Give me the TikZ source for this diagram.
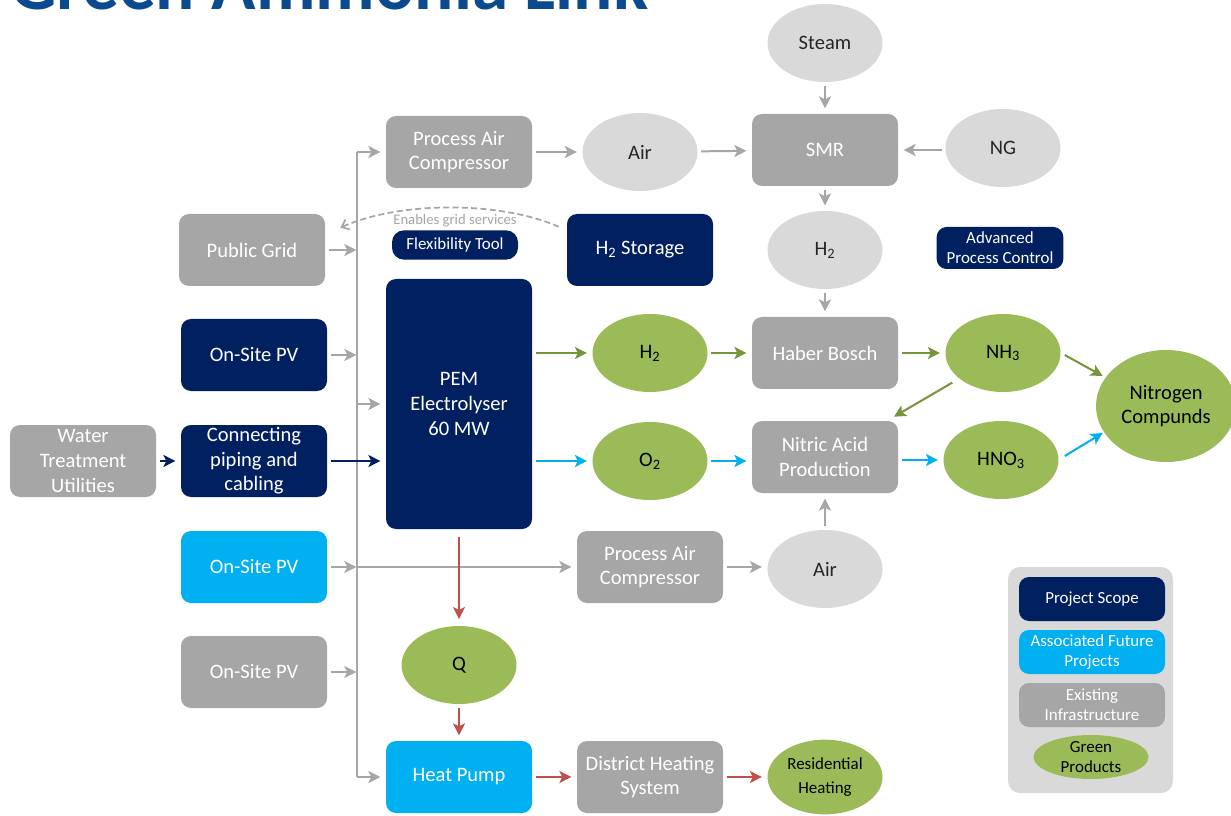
\documentclass[tikz,border=0pt]{standalone}
\usepackage{fontspec}
\setmainfont{Carlito}
\usetikzlibrary{shapes.geometric,arrows.meta,calc}
\definecolor{navy}{HTML}{002060}
\definecolor{lblue}{HTML}{00B0F0}
\definecolor{mgray}{HTML}{A6A6A6}
\definecolor{lgray}{HTML}{D9D9D9}
\definecolor{lgreen}{HTML}{9BBB59}
\definecolor{agreen}{HTML}{77933C}
\definecolor{ared}{HTML}{C0504D}
\definecolor{tblue}{HTML}{0B4A8F}
\definecolor{dtext}{HTML}{262626}
\newcommand\fmain{\fontsize{15.4}{18.4}\selectfont}
\newcommand\fsmall{\fontsize{12.7}{15}\selectfont}
\newcommand\ftiny{\fontsize{11}{13}\selectfont}
\begin{document}
\begin{tikzpicture}[x=0.75pt,y=-0.75pt,
  rbox/.style={rectangle, rounded corners=7.5pt, minimum width=109.5pt, minimum height=54pt, inner sep=0pt, align=center, text=white, font=\fmain},
  navybox/.style={rbox, fill=navy},
  bluebox/.style={rbox, fill=lblue},
  graybox/.style={rbox, fill=mgray},
  ell/.style={ellipse, minimum width=86.25pt, minimum height=58.5pt, inner sep=0pt, align=center, font=\fmain},
  lgell/.style={ell, fill=lgray, text=dtext},
  gell/.style={ell, fill=lgreen, text=black},
  arr/.style={line width=1.5pt, -{Stealth[length=9pt,width=9pt,inset=2.2pt]}, shorten >=4pt, shorten <=2.5pt},
  garr/.style={arr, draw=mgray},
  narr/.style={arr, draw=navy},
  grarr/.style={arr, draw=agreen},
  barr/.style={arr, draw=lblue},
  rarr/.style={arr, draw=ared},
  legbox/.style={rbox, minimum height=33pt, font=\fsmall},
]
\clip (0,0) rectangle (1231,816);
\fill[white] (0,0) rectangle (1231,816);
% title (cut off at top)
\node[anchor=base west, inner sep=0pt, text=tblue] (title) at (10,10) {\resizebox{478.5pt}{!}{\bfseries Green Ammonia Link}};

% nodes
\node[lgell] (steam) at (825,43) {Steam};
\node[graybox] (pac1) at (459,152) {Process Air\\Compressor};
\node[lgell] (air1) at (640,152) {Air};
\node[graybox] (smr) at (825,150) {SMR};
\node[lgell] (ng) at (1003,148) {NG};

\node[graybox] (grid) at (252,250) {Public Grid};
\node[navybox, minimum width=94.5pt, minimum height=22pt, rounded corners=9pt, font=\fsmall] (flex) at (455,245) {Flexibility Tool};
\node[text=mgray, font=\ftiny, inner sep=0pt] (enables) at (455,221) {Enables grid services};
\node[navybox] (h2s) at (640,250) {H\textsubscript{2} Storage};
\node[lgell] (h2gray) at (825,250) {H\textsubscript{2}};
\node[navybox, minimum width=95pt, minimum height=31.5pt, font=\fsmall] (apc) at (1000,248) {Advanced\\Process Control};

\node[navybox] (pv1) at (254,355) {On-Site PV};
\node[navybox, minimum height=187.5pt] (pem) at (459,404) {PEM\\Electrolyser\\60 MW};
\node[gell] (h2g) at (650,353) {H\textsubscript{2}};
\node[graybox] (hb) at (825,353) {Haber Bosch};
\node[gell] (nh3) at (1003,353) {NH\textsubscript{3}};
\node[gell, minimum width=105pt, minimum height=84pt] (nc) at (1166,406) {Nitrogen\\Compunds};

\node[graybox] (wtu) at (83,461) {Water\\Treatment\\Utilities};
\node[navybox] (pipe) at (254,461) {Connecting\\piping and\\cabling};
\node[gell] (o2) at (650,461) {O\textsubscript{2}};
\node[graybox] (nitric) at (825,457) {Nitric Acid\\Production};
\node[gell] (hno3) at (1001,460) {HNO\textsubscript{3}};

\node[bluebox] (pv2) at (254,567) {On-Site PV};
\node[graybox] (pac2) at (650,567) {Process Air\\Compressor};
\node[lgell] (air2) at (825,569) {Air};

\node[graybox] (pv3) at (254,672) {On-Site PV};
\node[gell] (q) at (459,665) {Q};

\node[bluebox] (hp) at (459,777) {Heat Pump};
\node[graybox] (dh) at (650,777) {District Heating\\System};
\node[gell, minimum height=56pt] (res) at (825,777) {\fsmall Residential\\\fsmall Heating};

% legend
\node[fill=lgray, rounded corners=9pt, minimum width=123.75pt, minimum height=169.5pt, inner sep=0pt] (legend) at (1090.5,680) {};
\node[legbox, fill=navy] (lps) at (1092,599) {Project Scope};
\node[legbox, fill=lblue] (lafp) at (1092,652) {Associated Future\\Projects};
\node[legbox, fill=mgray] (lei) at (1092,705) {Existing\\Infrastructure};
\node[gell, minimum height=32pt, font=\fsmall] (lgp) at (1091,757) {Green\\Products};

% bus
\coordinate (bt) at (357,152);
\coordinate (bb) at (357,777);
\draw[mgray, line width=1.5pt] (bt) -- (bb);
\draw[garr, shorten <=0pt] (bt) -- (pac1);
\draw[garr, shorten <=0pt] (bb) -- (hp);
\draw[garr, shorten <=0pt] (bt |- pem) -- (pem);
\draw[garr, shorten >=0.5pt] (grid) -- (grid -| bt);
\draw[garr, shorten >=0.5pt] (pv1) -- (pv1 -| bt);
\draw[garr, shorten >=0.5pt] (pv2) -- (pv2 -| bt);
\draw[garr, shorten <=0pt] (pv2 -| bt) -- (pac2);
\draw[garr, shorten >=0.5pt] (pv3) -- (pv3 -| bt);

% navy
\draw[narr] (wtu) -- (pipe);
\draw[narr] (pipe.east) -- (pem.west |- pipe.east);

% gray process arrows
\draw[garr] (pac1) -- (air1);
\draw[garr] (air1) -- (smr);
\draw[garr] (ng.west |- smr) -- (smr);
\draw[garr] (steam) -- (smr);
\draw[garr] (smr) -- (h2gray);
\draw[garr] (h2gray) -- (hb);
\draw[garr] (air2) -- (nitric);
\draw[garr] (pac2) -- (air2.west |- pac2);

% green
\draw[grarr, shorten <=3pt] (pem.east |- h2g) -- (h2g);
\draw[grarr] (h2g) -- (hb);
\draw[grarr] (hb) -- (nh3);
\draw[grarr, shorten <=6pt, shorten >=6pt] (nh3) -- (nitric);
\draw[grarr, shorten <=0pt, shorten >=0pt] ($(nh3.east)+(4,2)$) -- ($(nc.west)+(7,-30)$);

% blue
\draw[barr, shorten <=3pt] (pem.east |- o2) -- (o2);
\draw[barr] (o2) -- (nitric.west |- o2);
\draw[barr] (nitric.east |- hno3) -- (hno3);
\draw[barr, shorten <=0pt, shorten >=0pt] ($(hno3.east)+(6,-4)$) -- ($(nc.west)+(7,27)$);

% red
\draw[rarr, shorten <=6pt, shorten >=5pt] (pem) -- (q);
\draw[rarr] (q) -- (hp);
\draw[rarr] (hp) -- (dh);
\draw[rarr] (dh) -- (res);

% dashed grid-services arc
\draw[mgray, line width=1.3pt, dash pattern=on 4.5pt off 2.5pt, -{Straight Barb[length=5pt,width=8pt]}]
  ($(h2s.north west)+(-8,13)$) .. controls (500,201) and (400,201) .. ($(grid.north east)+(15,14)$);
\end{tikzpicture}
\end{document}
